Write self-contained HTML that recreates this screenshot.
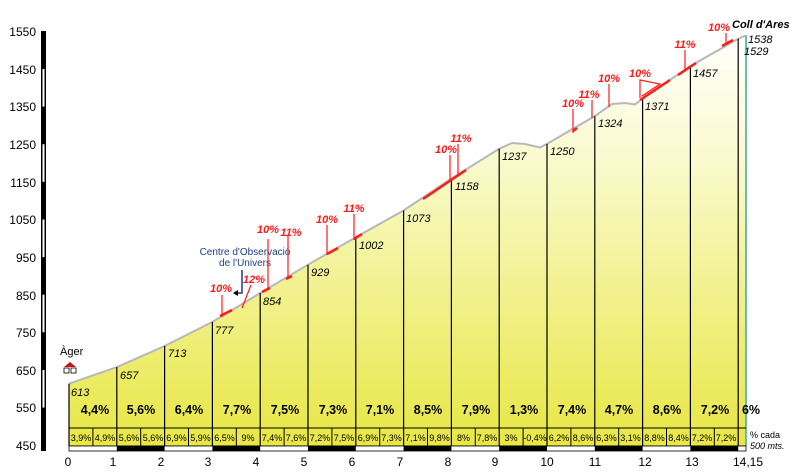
<!DOCTYPE html>
<html><head><meta charset="utf-8"><style>
html,body{margin:0;padding:0;background:#fff;}
svg{display:block;font-family:"Liberation Sans",Arial,sans-serif;}
</style></head><body>
<svg width="800" height="474" viewBox="0 0 800 474" xmlns="http://www.w3.org/2000/svg">
<defs>
<linearGradient id="g" x1="0" y1="30" x2="0" y2="446" gradientUnits="userSpaceOnUse">
<stop offset="0" stop-color="#ffffff"/>
<stop offset="0.3" stop-color="#fafad0"/>
<stop offset="1" stop-color="#e8e744"/>
</linearGradient>
</defs>
<rect x="41" y="31" width="5" height="420" fill="#000"/>
<g fill="#fff">
<rect x="42.5" y="69" width="2" height="37.6"/>
<rect x="42.5" y="144.2" width="2" height="37.6"/>
<rect x="42.5" y="219.5" width="2" height="37.6"/>
<rect x="42.5" y="294.7" width="2" height="37.6"/>
<rect x="42.5" y="370" width="2" height="37.6"/>
</g>
<g font-size="12" fill="#000" text-anchor="end">
<text x="36" y="36">1550</text><text x="36" y="74">1450</text><text x="36" y="111">1350</text>
<text x="36" y="149">1250</text><text x="36" y="187">1150</text><text x="36" y="224">1050</text>
<text x="36" y="262">950</text><text x="36" y="300">850</text><text x="36" y="337">750</text>
<text x="36" y="375">650</text><text x="36" y="412">550</text><text x="36" y="450">450</text>
</g>
<path d="M69,446 L69,383.7 L116.8,367.1 L164.6,346 L212.4,321.9 L260.2,293 L308,264.7 L355.8,237.2 L403.6,210.5 L451.4,178.5 L499.2,148.8 L512,143 L525,144 L540,147.5 L547,143.9 L594.8,116.1 L612,104 L625,103 L635,104.5 L642.6,98.4 L690.4,66 L738.2,38.9 L745.4,35.5 L745.4,446 Z" fill="url(#g)"/>
<path d="M69,383.7 L116.8,367.1 L164.6,346 L212.4,321.9 L260.2,293 L308,264.7 L355.8,237.2 L403.6,210.5 L451.4,178.5 L499.2,148.8 L512,143 L525,144 L540,147.5 L547,143.9 L594.8,116.1 L612,104 L625,103 L635,104.5 L642.6,98.4 L690.4,66 L738.2,38.9 L745.4,35.5" fill="none" stroke="#b8b8b8" stroke-width="2"/>
<g stroke="#000" stroke-width="1.2">
<line x1="69" y1="383.7" x2="69" y2="446"/><line x1="116.8" y1="367.1" x2="116.8" y2="446"/>
<line x1="164.6" y1="346" x2="164.6" y2="446"/><line x1="212.4" y1="321.9" x2="212.4" y2="446"/>
<line x1="260.2" y1="293" x2="260.2" y2="446"/><line x1="308" y1="264.7" x2="308" y2="446"/>
<line x1="355.8" y1="237.2" x2="355.8" y2="446"/><line x1="403.6" y1="210.5" x2="403.6" y2="446"/>
<line x1="451.4" y1="178.5" x2="451.4" y2="446"/><line x1="499.2" y1="148.8" x2="499.2" y2="446"/>
<line x1="547" y1="143.9" x2="547" y2="446"/><line x1="594.8" y1="116.1" x2="594.8" y2="446"/>
<line x1="642.6" y1="98.4" x2="642.6" y2="446"/><line x1="690.4" y1="66" x2="690.4" y2="446"/>
<line x1="738.2" y1="38.9" x2="738.2" y2="446"/>
</g>
<line x1="746" y1="35.5" x2="746" y2="446" stroke="#3aa6a6" stroke-width="1.5"/>
<line x1="69" y1="428" x2="746" y2="428" stroke="#000"/>
<line x1="69" y1="446" x2="746" y2="446" stroke="#000"/>
<g stroke="#000">
<line x1="92.9" y1="428" x2="92.9" y2="446"/><line x1="140.7" y1="428" x2="140.7" y2="446"/>
<line x1="188.5" y1="428" x2="188.5" y2="446"/><line x1="236.3" y1="428" x2="236.3" y2="446"/>
<line x1="284.1" y1="428" x2="284.1" y2="446"/><line x1="331.9" y1="428" x2="331.9" y2="446"/>
<line x1="379.7" y1="428" x2="379.7" y2="446"/><line x1="427.5" y1="428" x2="427.5" y2="446"/>
<line x1="475.3" y1="428" x2="475.3" y2="446"/><line x1="523.1" y1="428" x2="523.1" y2="446"/>
<line x1="570.9" y1="428" x2="570.9" y2="446"/><line x1="618.7" y1="428" x2="618.7" y2="446"/>
<line x1="666.5" y1="428" x2="666.5" y2="446"/><line x1="714.3" y1="428" x2="714.3" y2="446"/>
</g>
<g font-size="9" text-anchor="middle" fill="#000">
<text x="81" y="441">3,9%</text><text x="105" y="441">4,9%</text><text x="129" y="441">5,6%</text><text x="153" y="441">5,6%</text>
<text x="176.5" y="441">6,9%</text><text x="200.5" y="441">5,9%</text><text x="224.5" y="441">6,5%</text><text x="248" y="441">9%</text>
<text x="272" y="441">7,4%</text><text x="296" y="441">7,6%</text><text x="320" y="441">7,2%</text><text x="344" y="441">7,5%</text>
<text x="368" y="441">6,9%</text><text x="391.5" y="441">7,3%</text><text x="415.5" y="441">7,1%</text><text x="439.5" y="441">9,8%</text>
<text x="463.5" y="441">8%</text><text x="487" y="441">7,8%</text><text x="511" y="441">3%</text><text x="535" y="441">-0,4%</text>
<text x="559" y="441">6,2%</text><text x="583" y="441">8,6%</text><text x="606.5" y="441">6,3%</text><text x="630.5" y="441">3,1%</text>
<text x="654.5" y="441">8,8%</text><text x="678.5" y="441">8,4%</text><text x="702" y="441">7,2%</text><text x="726" y="441">7,2%</text>
</g>
<rect x="69" y="446" width="677" height="5" fill="#fff" stroke="#000" stroke-width="0.8"/>
<g fill="#000">
<rect x="116.8" y="446" width="47.8" height="5"/><rect x="212.4" y="446" width="47.8" height="5"/>
<rect x="308" y="446" width="47.8" height="5"/><rect x="403.6" y="446" width="47.8" height="5"/>
<rect x="499.2" y="446" width="47.8" height="5"/><rect x="594.8" y="446" width="47.8" height="5"/>
<rect x="690.4" y="446" width="47.8" height="5"/>
</g>
<g font-size="12" text-anchor="middle" fill="#000">
<text x="68" y="466">0</text><text x="113" y="466">1</text><text x="161" y="466">2</text><text x="208" y="466">3</text>
<text x="256" y="466">4</text><text x="304" y="466">5</text><text x="352" y="466">6</text><text x="400" y="466">7</text>
<text x="448" y="466">8</text><text x="495" y="466">9</text><text x="547" y="466">10</text><text x="595" y="466">11</text>
<text x="645" y="466">12</text><text x="692" y="466">13</text><text x="748" y="466">14,15</text>
</g>
<g font-size="12.5" font-weight="bold" text-anchor="middle" fill="#000">
<text x="95" y="414">4,4%</text><text x="141" y="414">5,6%</text><text x="189" y="414">6,4%</text><text x="237" y="414">7,7%</text>
<text x="285" y="414">7,5%</text><text x="333" y="414">7,3%</text><text x="380" y="414">7,1%</text><text x="428" y="414">8,5%</text>
<text x="476" y="414">7,9%</text><text x="524" y="414">1,3%</text><text x="572" y="414">7,4%</text><text x="619" y="414">4,7%</text>
<text x="667" y="414">8,6%</text><text x="715" y="414">7,2%</text><text x="751" y="414">6%</text>
</g>
<g font-size="9" fill="#000" font-style="italic">
<text x="750" y="438" font-style="normal">% cada</text><text x="750" y="449">500 mts.</text>
</g>
<g font-size="11" font-style="italic" fill="#000">
<text x="71" y="396">613</text><text x="120" y="379">657</text><text x="168" y="357">713</text><text x="215" y="334">777</text>
<text x="263" y="305">854</text><text x="311" y="276">929</text><text x="359" y="249">1002</text><text x="406" y="222">1073</text>
<text x="455" y="190">1158</text><text x="502" y="160">1237</text><text x="550" y="155">1250</text><text x="598" y="127">1324</text>
<text x="645" y="110">1371</text><text x="693" y="77">1457</text><text x="748" y="43">1538</text><text x="744" y="55">1529</text>
</g>
<text x="732" y="28" font-size="11" font-weight="bold" font-style="italic">Coll d'Ares</text>
<text x="60" y="355" font-size="11">Àger</text>
<g transform="translate(62,361)">
<path d="M2,6 L8,1 L14,6 Z" fill="#d01010"/>
<rect x="2" y="7" width="5" height="5" fill="#fff" stroke="#000" stroke-width="0.8"/>
<rect x="9" y="7" width="5" height="5" fill="#fff" stroke="#000" stroke-width="0.8"/>
</g>
<g font-size="10" fill="#1a3f8a" text-anchor="middle">
<text x="245" y="255">Centre d'Observació</text><text x="245" y="266">de l'Univers</text>
</g>
<path d="M242,270 L242,293 L235,293" fill="none" stroke="#1a3f8a" stroke-width="1.5"/>
<path d="M233,293 L238,290 L238,296 Z" fill="#000"/>
<g stroke="#ff1a1a" stroke-width="1.2" fill="none">
<line x1="222" y1="295" x2="222" y2="317"/><line x1="251" y1="285" x2="242" y2="308"/>
<line x1="268" y1="239" x2="268" y2="290"/><line x1="288" y1="236" x2="288" y2="279"/>
<line x1="327" y1="225" x2="327" y2="255"/><line x1="354" y1="214" x2="354" y2="240"/>
<line x1="450" y1="155" x2="450" y2="180"/><line x1="458" y1="144" x2="458" y2="174"/>
<line x1="573" y1="109" x2="573" y2="133"/><line x1="592" y1="100" x2="592" y2="118"/>
<line x1="609" y1="84" x2="609" y2="107"/>
<path d="M640,98 L640,80 L660,84 L642,96"/>
<line x1="685" y1="50" x2="685" y2="70"/><line x1="726" y1="33" x2="726" y2="45"/>
</g>
<g stroke="#ff1a1a" stroke-width="2.5" fill="none">
<line x1="220" y1="316" x2="232" y2="310"/><line x1="262" y1="292" x2="270" y2="288"/>
<line x1="286" y1="279" x2="292" y2="276"/><line x1="327" y1="254" x2="338" y2="248"/>
<line x1="354" y1="239" x2="362" y2="234"/><line x1="423" y1="199" x2="466" y2="170"/>
<line x1="573" y1="131" x2="577" y2="128"/><line x1="640" y1="100" x2="670" y2="80"/>
<line x1="678" y1="75" x2="696" y2="63"/><line x1="722" y1="46" x2="733" y2="40"/>
</g>
<g font-size="11" font-weight="bold" font-style="italic" fill="#ff1a1a" text-anchor="middle">
<text x="221" y="292">10%</text><text x="254" y="283">12%</text><text x="268" y="233">10%</text><text x="291" y="236">11%</text>
<text x="327" y="223">10%</text><text x="354" y="212">11%</text><text x="446" y="153">10%</text><text x="461" y="142">11%</text>
<text x="573" y="107">10%</text><text x="589" y="98">11%</text><text x="609" y="82">10%</text><text x="640" y="77">10%</text>
<text x="685" y="48">11%</text><text x="719" y="31">10%</text>
</g>
</svg>
</body></html>
